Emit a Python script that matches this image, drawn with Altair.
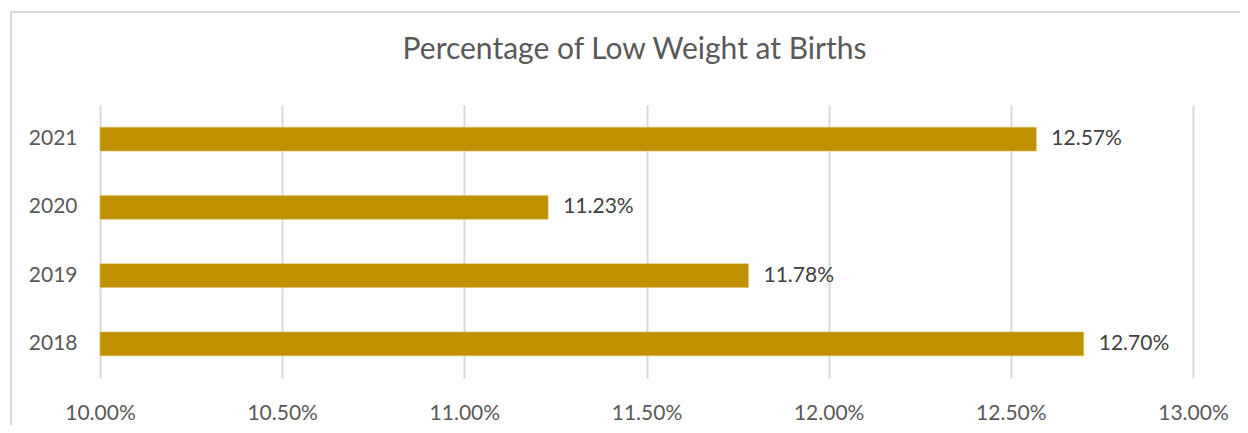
import altair as alt
import pandas as pd

years = ["2021", "2020", "2019", "2018"]
values = [12.57, 11.23, 11.78, 12.70]
labels = ["12.57%", "11.23%", "11.78%", "12.70%"]
tick_values = [10.0, 10.5, 11.0, 11.5, 12.0, 12.5, 13.0]
baseline_value = 10.0

df = pd.DataFrame({"year": years, "value": values, "label": labels,
                   "base": [baseline_value] * len(years)})

FONT = "Lato"
W, H = 1093, 273

y_enc = alt.Y("year:N", sort=years, title=None,
              scale=alt.Scale(paddingInner=0.649, paddingOuter=0.3245),
              axis=alt.Axis(domain=False, ticks=False, grid=False, labelFont=FONT,
                            labelFontSize=21, labelColor="#595959", labelPadding=23))
x_enc = alt.X("value:Q", title=None,
              scale=alt.Scale(domain=[10, 13], zero=False, nice=False),
              axis=alt.Axis(values=tick_values, labelExpr="format(datum.value, '.2f') + '%'",
                            domain=False, ticks=False, grid=True, gridColor="#D9D9D9",
                            gridWidth=2, labelFont=FONT, labelFontSize=21, labelFlush=False,
                            labelColor="#595959", labelPadding=24, labelBaseline="top"))

border = alt.Chart(df).mark_rect(fill=None, stroke="#D9D9D9", strokeWidth=2).encode(
    x=alt.value(-89), x2=alt.value(1250), y=alt.value(-93), y2=alt.value(400)
)

bars = alt.Chart(df).mark_bar(color="#BF9000", stroke="#E0C060", strokeWidth=0.5).encode(
    x=x_enc, x2="base:Q", y=y_enc
)

text = alt.Chart(df).mark_text(align="left", baseline="middle", dx=15, font=FONT,
                               fontSize=21, color="#404040").encode(
    x=alt.X("value:Q"), y=alt.Y("year:N", sort=years), text="label:N"
)

chart = alt.layer(border, bars, text).properties(
    width=W, height=H,
    background="white",
    autosize=alt.AutoSizeParams(type="none"),
    padding={"left": 92, "top": 97, "right": 47, "bottom": 47},
    title=alt.TitleParams("Percentage of Low Weight at Births", font=FONT, fontSize=30,
                          fontWeight="normal", color="#595959", anchor="middle",
                          baseline="alphabetic", offset=-78, dx=-12),
).configure_view(stroke="transparent", strokeWidth=0)

chart.save("out.html", embed_options={"renderer": "svg", "actions": False})
